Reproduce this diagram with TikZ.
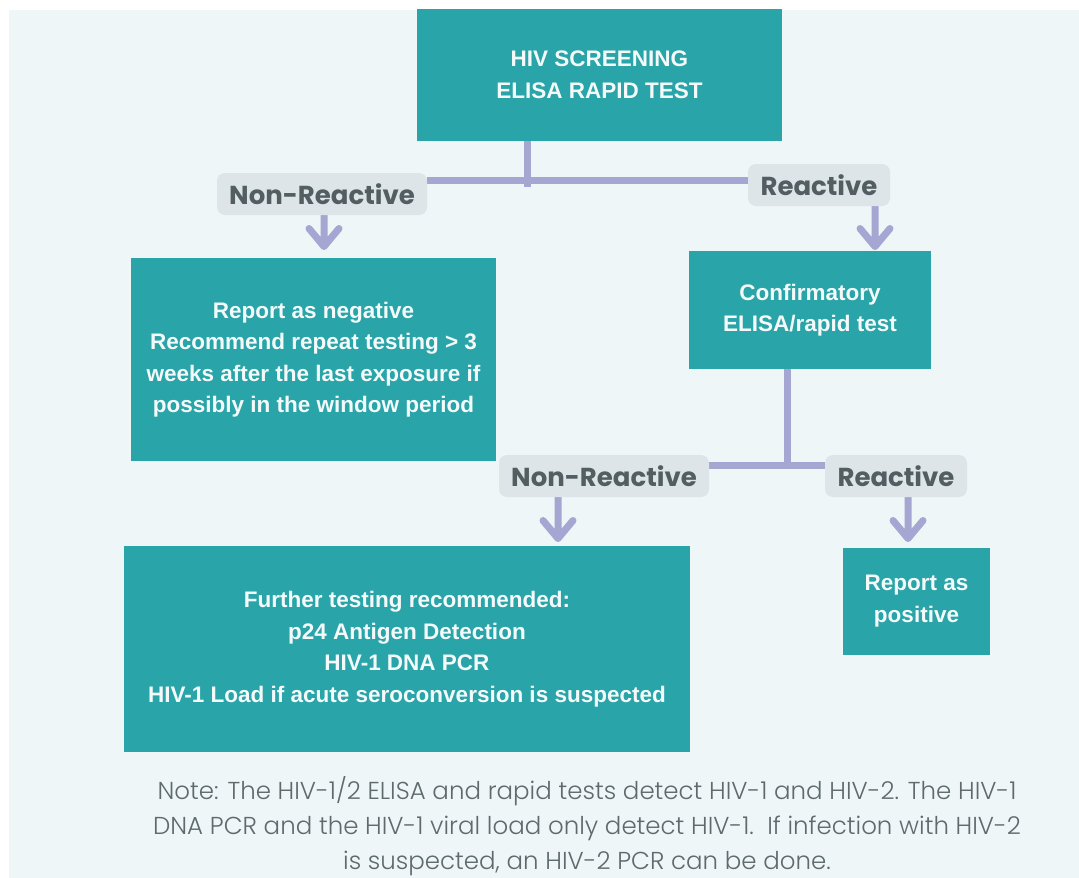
\documentclass[tikz,border=0pt]{standalone}
\usepackage{fontspec}
\usetikzlibrary{calc}
\newfontfamily\boxfont{Liberation Sans}
\newfontfamily\labfont{Poppins}
\newfontfamily\notefont{Poppins Light}
\definecolor{bgc}{HTML}{EEF6F8}
\definecolor{boxteal}{HTML}{29A4A8}
\definecolor{lav}{HTML}{A6A6D3}
\definecolor{labbg}{HTML}{DDE5E8}
\definecolor{labtx}{HTML}{525E62}
\definecolor{notetx}{HTML}{5F6A6D}
\definecolor{boxtx}{HTML}{F4FAFA}
\pgfdeclarelayer{back}
\pgfsetlayers{back,main}
\begin{document}
\begin{tikzpicture}[x=1pt,y=-1pt,
  flowbox/.style={fill=boxteal, text=boxtx, inner sep=0pt, align=center,
    font=\boxfont\bfseries\fontsize{22.5}{31.5}\selectfont},
  lab/.style={fill=labbg, text=labtx, rounded corners=8pt, inner sep=0pt,
    font=\labfont\bfseries\fontsize{26}{30}\selectfont, minimum height=42pt},
  conn/.style={draw=lav, line width=7pt},
  arr/.style={conn, line cap=round, line join=round},
]
\useasboundingbox (0,0) rectangle (1079,878);

% boxes
\node[flowbox, minimum width=365pt, minimum height=132pt] (top) at (599.5,75) {HIV SCREENING\\ELISA RAPID TEST};
\node[flowbox, minimum width=365pt, minimum height=203pt] (neg) at (313.5,359.5) {Report as negative\\Recommend repeat testing > 3\\weeks after the last exposure if\\possibly in the window period};
\node[flowbox, minimum width=242pt, minimum height=118pt] (conf) at (810,310) {Confirmatory\\ELISA/rapid test};
\node[flowbox, minimum width=566pt, minimum height=206pt] (further) at (407,649) {Further testing recommended:\\p24 Antigen Detection\\HIV-1 DNA PCR\\HIV-1 Load if acute seroconversion is suspected};
\node[flowbox, minimum width=147pt, minimum height=107pt] (pos) at (916.5,601) {Report as\\positive};

% labels
\node[lab, minimum width=210pt] (nr1) at (322,194) {Non-Reactive};
\node[lab, minimum width=142pt] (r1) at (819,185) {Reactive};
\node[lab, minimum width=210pt] (nr2) at (604,476) {Non-Reactive};
\node[lab, minimum width=142pt] (r2) at (896,476) {Reactive};

% note
\node[font=\notefont\fontsize{24.5}{35}\selectfont, text=notetx, align=center, inner sep=0pt] (note) at (587,826)
 {Note: The HIV-1/2 ELISA and rapid tests detect HIV-1 and HIV-2. The HIV-1\\DNA PCR and the HIV-1 viral load only detect HIV-1.\ \ If infection with HIV-2\\is suspected, an HIV-2 PCR can be done.};

\coordinate (j1) at (527,180);
\coordinate (j2) at (787,465);
\coordinate (a1) at (324,246.5);
\coordinate (a2) at (875,246.5);
\coordinate (a3) at (558,538.5);
\coordinate (a4) at (908,538.5);

\begin{pgfonlayer}{back}
\fill[white] (0,0) rectangle (1079,878);
\fill[bgc] (9,10) rectangle (1079,878);
\draw[conn] (top.south -| j1) -- ([yshift=-7pt]j1);
\draw[conn] (nr1.east |- j1) -- (r1.west |- j1);
\draw[arr] (nr1.south -| a1) -- (a1) ++(-15,-18) -- (a1) -- ++(15,-18);
\draw[arr] (r1.south -| a2) -- (a2) ++(-15,-18) -- (a2) -- ++(15,-18);
\draw[conn] (conf.south -| j2) -- ([yshift=-4pt]j2);
\draw[conn] (nr2.east |- j2) -- (r2.west |- j2);
\draw[arr] (nr2.south -| a3) -- (a3) ++(-15,-18) -- (a3) -- ++(15,-18);
\draw[arr] (r2.south -| a4) -- (a4) ++(-15,-18) -- (a4) -- ++(15,-18);
\end{pgfonlayer}
\end{tikzpicture}
\end{document}
